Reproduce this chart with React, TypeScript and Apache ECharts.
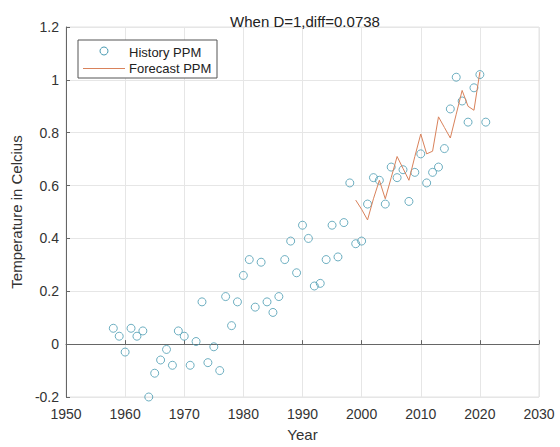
import React, { useEffect, useRef } from "react";
import * as echarts from "echarts";

const historyYears = [
  1958, 1959, 1960, 1961, 1962, 1963, 1964, 1965, 1966, 1967, 1968, 1969, 1970,
  1971, 1972, 1973, 1974, 1975, 1976, 1977, 1978, 1979, 1980, 1981, 1982, 1983,
  1984, 1985, 1986, 1987, 1988, 1989, 1990, 1991, 1992, 1993, 1994, 1995, 1996,
  1997, 1998, 1999, 2000, 2001, 2002, 2003, 2004, 2005, 2006, 2007, 2008, 2009,
  2010, 2011, 2012, 2013, 2014, 2015, 2016, 2017, 2018, 2019, 2020, 2021,
];
const historyValues = [
  0.06, 0.03, -0.03, 0.06, 0.03, 0.05, -0.2, -0.11, -0.06, -0.02, -0.08, 0.05, 0.03,
  -0.08, 0.01, 0.16, -0.07, -0.01, -0.1, 0.18, 0.07, 0.16, 0.26, 0.32, 0.14, 0.31,
  0.16, 0.12, 0.18, 0.32, 0.39, 0.27, 0.45, 0.4, 0.22, 0.23, 0.32, 0.45, 0.33,
  0.46, 0.61, 0.38, 0.39, 0.53, 0.63, 0.62, 0.53, 0.67, 0.63, 0.66, 0.54, 0.65,
  0.72, 0.61, 0.65, 0.67, 0.74, 0.89, 1.01, 0.92, 0.84, 0.97, 1.02, 0.84,
];
const forecastYears = [
  1999, 2000, 2001, 2002, 2003, 2004, 2005, 2006, 2007, 2008, 2009, 2010, 2011,
  2012, 2013, 2014, 2015, 2016, 2017, 2018, 2019, 2020,
];
const forecastValues = [
  0.545, 0.51, 0.47, 0.55, 0.62, 0.55, 0.63, 0.71, 0.665, 0.62, 0.71, 0.795, 0.72,
  0.73, 0.86, 0.82, 0.78, 0.87, 0.96, 0.9, 0.885, 1.03,
];
const titleText = "When D=1,diff=0.0738";
const legendLabels = ["History PPM", "Forecast PPM"];

const FONT = "'Liberation Sans', Arial, sans-serif";
const SCATTER_COLOR = "#4a9bb2";
const LINE_COLOR = "#d9825b";

export default function App() {
  const ref = useRef<HTMLDivElement>(null);
  useEffect(() => {
    if (!ref.current) return;
    const chart = echarts.init(ref.current, undefined, { renderer: "svg" });
    chart.setOption({
      animation: false,
      backgroundColor: "#ffffff",
      title: {
        text: titleText,
        left: 300,
        textAlign: "center",
        top: 9,
        textStyle: { fontFamily: FONT, fontSize: 15, fontWeight: "normal", color: "#222" },
      },
      grid: {
        left: 66,
        right: 21,
        top: 27,
        bottom: 46,
        show: true,
        borderColor: "#e2e2e2",
        borderWidth: 1,
        backgroundColor: "transparent",
      },
      xAxis: {
        type: "value",
        min: 1950,
        max: 2030,
        interval: 10,
        name: "Year",
        nameLocation: "middle",
        nameGap: 30,
        nameTextStyle: { fontFamily: FONT, fontSize: 15, color: "#333" },
        axisLine: { show: true, lineStyle: { color: "#666", width: 1 } },
        axisTick: { show: true, inside: true, length: 4, lineStyle: { color: "#666" } },
        axisLabel: {
          fontFamily: FONT,
          fontSize: 14,
          color: "#333",
          margin: 10,
          formatter: (v: number) => String(Math.round(v)),
        },
        splitLine: { show: true, lineStyle: { color: "#e6e6e6", width: 1 } },
      },
      yAxis: {
        type: "value",
        min: -0.2,
        max: 1.2,
        interval: 0.2,
        name: "Temperature in Celcius",
        nameLocation: "middle",
        nameGap: 36,
        nameRotate: 90,
        nameTextStyle: { fontFamily: FONT, fontSize: 15, color: "#333" },
        axisLine: { show: true, lineStyle: { color: "#666", width: 1 } },
        axisTick: { show: true, inside: true, length: 4, lineStyle: { color: "#666" } },
        axisLabel: {
          fontFamily: FONT,
          fontSize: 14,
          color: "#333",
          margin: 7,
          formatter: (v: number) => String(Math.round(v * 10) / 10),
        },
        splitLine: { show: true, lineStyle: { color: "#e6e6e6", width: 1 } },
      },
      series: [
        {
          name: legendLabels[0],
          type: "scatter",
          data: historyYears.map((y, i) => [y, historyValues[i]]),
          symbol: "circle",
          symbolSize: 8,
          itemStyle: { color: "rgba(255,255,255,0)", borderColor: SCATTER_COLOR, borderWidth: 1 },
          z: 3,
        },
        {
          name: legendLabels[1],
          type: "line",
          data: forecastYears.map((y, i) => [y, forecastValues[i]]),
          showSymbol: false,
          symbol: "none",
          lineStyle: { color: LINE_COLOR, width: 1 },
          z: 4,
        },
      ],
      graphic: [
        {
          type: "rect",
          shape: { x: 78, y: 40, width: 139, height: 38 },
          style: { fill: "#ffffff", stroke: "#555", lineWidth: 1 },
          z: 10,
        },
        {
          type: "circle",
          shape: { cx: 104, cy: 51, r: 4 },
          style: { fill: "#ffffff", stroke: SCATTER_COLOR, lineWidth: 1 },
          z: 11,
        },
        {
          type: "line",
          shape: { x1: 83, y1: 68.5, x2: 125, y2: 68.5 },
          style: { stroke: LINE_COLOR, lineWidth: 1 },
          z: 11,
        },
        {
          type: "text",
          x: 129,
          y: 52,
          style: {
            text: legendLabels[0],
            font: `13px ${FONT}`,
            fill: "#222",
            verticalAlign: "middle",
            align: "left",
          },
          z: 11,
        },
        {
          type: "text",
          x: 129,
          y: 68.5,
          style: {
            text: legendLabels[1],
            font: `13px ${FONT}`,
            fill: "#222",
            verticalAlign: "middle",
            align: "left",
          },
          z: 11,
        },
      ],
    });
    return () => chart.dispose();
  }, []);
  return <div ref={ref} style={{ width: 560, height: 447, position: "absolute", left: 0, top: 0 }} />;
}
